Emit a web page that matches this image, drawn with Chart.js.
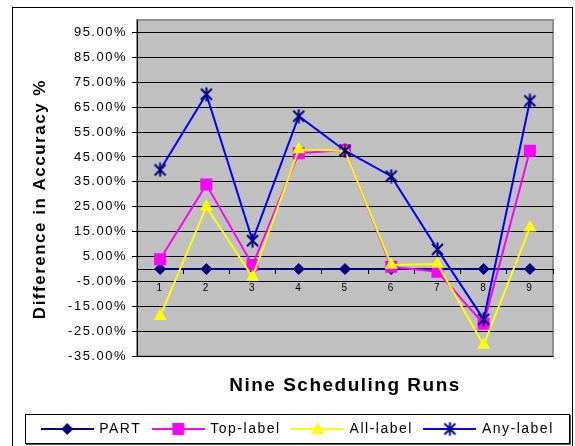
<!DOCTYPE html>
<html lang="en">
<head>
<meta charset="UTF-8">
<title>Nine Scheduling Runs</title>
<script src="https://cdn.jsdelivr.net/npm/chart.js"></script>
<style>
  body { margin: 0; background: #fff; }
</style>
</head>
<body>
<canvas id="chart" width="575" height="446"></canvas>
<script>
// ---- data (difference in accuracy, %) ----
const runs     = ['1', '2', '3', '4', '5', '6', '7', '8', '9'];
const part     = [0, 0, 0, 0, 0, 0, 0, 0, 0];
const topLabel = [3.9, 33.9, 1.6, 46.5, 47.8, 0.9, -1.1, -22.0, 47.5];
const allLabel = [-19.0, 25.0, -3.2, 48.0, 47.5, 1.6, 2.0, -30.5, 16.6];
const anyLabel = [39.8, 70.2, 11.4, 61.4, 47.5, 37.3, 7.9, -20.2, 67.5];
const yTicks   = [-35, -25, -15, -5, 5, 15, 25, 35, 45, 55, 65, 75, 85, 95];
const yMin = -35, yMax = 100;
const xTitle = 'Nine Scheduling Runs';
const yTitle = 'Difference in Accuracy %';

const fontFamily = '"Liberation Sans", Arial, sans-serif';
Chart.defaults.font.family = fontFamily;
Chart.defaults.color = '#000';

// star marker (x with a vertical bar), like the excel one
function makeStar(color) {
    const c = document.createElement('canvas');
    c.width = 15; c.height = 15;
    const g = c.getContext('2d');
    g.strokeStyle = color; g.lineWidth = 2;
    g.beginPath();
    g.moveTo(2, 2); g.lineTo(13, 13);
    g.moveTo(13, 2); g.lineTo(2, 13);
    g.moveTo(7.5, 0.5); g.lineTo(7.5, 14.5);
    g.stroke();
    return c;
}
const starImg = makeStar('#000080');

// legend icons: line with the marker in the middle
function legendIcon(lineColor, drawMarker) {
    const c = document.createElement('canvas');
    c.width = 53; c.height = 14;
    const g = c.getContext('2d');
    g.strokeStyle = lineColor; g.lineWidth = 2;
    g.beginPath(); g.moveTo(0, 7); g.lineTo(53, 7); g.stroke();
    drawMarker(g, 26.5, 7);
    return c;
}
const legendIcons = [
    legendIcon('#000080', (g, x, y) => {
        g.fillStyle = '#000080';
        g.beginPath(); g.moveTo(x, y - 6); g.lineTo(x + 6, y); g.lineTo(x, y + 6); g.lineTo(x - 6, y); g.closePath(); g.fill();
    }),
    legendIcon('#ff00ff', (g, x, y) => {
        g.fillStyle = '#ff00ff'; g.fillRect(x - 6, y - 6, 12, 12);
    }),
    legendIcon('#ffff00', (g, x, y) => {
        g.fillStyle = '#ffff00';
        g.beginPath(); g.moveTo(x, y - 7); g.lineTo(x + 6.5, y + 5); g.lineTo(x - 6.5, y + 5); g.closePath(); g.fill();
    }),
    legendIcon('#0000ff', (g, x, y) => {
        g.drawImage(starImg, x - 7.5, y - 7.5);
    })
];

// excel-like letter spacing for all chart text
const spacing = {
    id: 'spacing',
    beforeUpdate(chart) { chart.ctx.letterSpacing = '1.5px'; },
    beforeDraw(chart) { chart.ctx.letterSpacing = '1.5px'; }
};

// outer frame, gray plot area, legend box, y title
const frame = {
    id: 'frame',
    beforeDraw(chart) {
        const {ctx, chartArea: a} = chart;
        ctx.save();
        ctx.fillStyle = '#fff';
        ctx.fillRect(0, 0, chart.width, chart.height);
        ctx.strokeStyle = '#000'; ctx.lineWidth = 1;
        ctx.strokeRect(12.5, 7.5, 560, 450);
        ctx.fillStyle = '#c0c0c0';
        ctx.fillRect(a.left, a.top, a.right - a.left, a.bottom - a.top);
        ctx.strokeStyle = '#909090'; ctx.lineWidth = 2;
        ctx.strokeRect(a.left, a.top, a.right - a.left, a.bottom - a.top);
        ctx.restore();
    },
    afterDraw(chart) {
        const {ctx, chartArea: a, legend: L} = chart;
        ctx.save();
        ctx.strokeStyle = '#000'; ctx.lineWidth = 1;
        ctx.strokeRect(L.left + 0.5, L.top + 4.5, L.right - L.left - 2, L.bottom - L.top - 7);
        ctx.strokeStyle = '#555';
        ctx.beginPath();
        ctx.moveTo(L.right - 0.5, L.top + 5); ctx.lineTo(L.right - 0.5, L.bottom - 1.5);
        ctx.lineTo(L.left + 1, L.bottom - 1.5);
        ctx.stroke();

        ctx.font = 'bold 17px ' + fontFamily;
        ctx.letterSpacing = '1.5px';
        ctx.fillStyle = '#000';
        ctx.textAlign = 'center'; ctx.textBaseline = 'middle';
        ctx.translate(40, (a.top + a.bottom) / 2 + 11);
        ctx.rotate(-Math.PI / 2);
        ctx.fillText(yTitle, 0, 0);
        ctx.restore();
    }
};

new Chart(document.getElementById('chart'), {
    type: 'line',
    data: {
        labels: runs,
        datasets: [
            { label: 'PART', data: part, borderColor: '#000080', backgroundColor: '#000080',
              borderWidth: 2, pointStyle: 'rectRot', pointRadius: 5.5, pointBorderWidth: 1, order: 4 },
            { label: 'Top-label', data: topLabel, borderColor: '#ff00ff', backgroundColor: '#ff00ff',
              borderWidth: 2, pointStyle: 'rect', pointRadius: 8.5, pointBorderWidth: 0, order: 3 },
            { label: 'All-label', data: allLabel, borderColor: '#ffff00', backgroundColor: '#ffff00',
              borderWidth: 2, pointStyle: 'triangle', pointRadius: 7.5, pointBorderWidth: 0, order: 2 },
            { label: 'Any-label', data: anyLabel, borderColor: '#0000ff', backgroundColor: '#000080',
              borderWidth: 2, pointStyle: starImg, pointRadius: 7, order: 1 }
        ]
    },
    options: {
        responsive: false,
        animation: false,
        devicePixelRatio: 1,
        layout: { padding: { left: 25, right: 4, top: 20, bottom: 0 } },
        elements: { line: { tension: 0 } },
        scales: {
            x: {
                axis: 'x', type: 'category', position: { y: 0 }, offset: true,
                grid: { display: true, drawOnChartArea: false, drawTicks: true, tickLength: 4, color: '#000', offset: true },
                border: { display: true, color: '#000', width: 1 },
                ticks: { font: { size: 10 }, color: '#000', padding: 9, maxRotation: 0, autoSkip: false }
            },
            y: {
                type: 'linear', position: 'left', min: yMin, max: yMax,
                afterBuildTicks: s => { s.ticks = yTicks.map(v => ({ value: v })); },
                afterFit: s => { s.width = 112; },
                grid: { color: '#000', tickLength: 5, drawTicks: true },
                border: { display: true, color: '#000' },
                ticks: { font: { size: 13 }, color: '#000', padding: 5, callback: v => v.toFixed(2) + '%' }
            },
            y2: {
                type: 'linear', position: 'right', display: true,
                grid: { display: false, drawTicks: false },
                border: { display: false },
                ticks: { display: false },
                afterFit: s => { s.width = 18; }
            }
        },
        plugins: {
            tooltip: { enabled: false },
            title: {
                display: true, text: xTitle, position: 'bottom', fullSize: false, weight: 500,
                font: { size: 19, weight: 'bold' }, color: '#000', padding: { top: 18, bottom: 13 }
            },
            legend: {
                position: 'bottom', weight: 1000,
                labels: {
                    usePointStyle: true, pointStyleWidth: 50, padding: 12,
                    font: { size: 14 }, color: '#000',
                    generateLabels: chart => chart.data.datasets.map((ds, i) => ({
                        text: ds.label, pointStyle: legendIcons[i], fillStyle: ds.backgroundColor,
                        strokeStyle: ds.borderColor, lineWidth: 0, hidden: false, datasetIndex: i, fontColor: '#000'
                    }))
                }
            }
        }
    },
    plugins: [spacing, frame]
});
</script>
</body>
</html>
